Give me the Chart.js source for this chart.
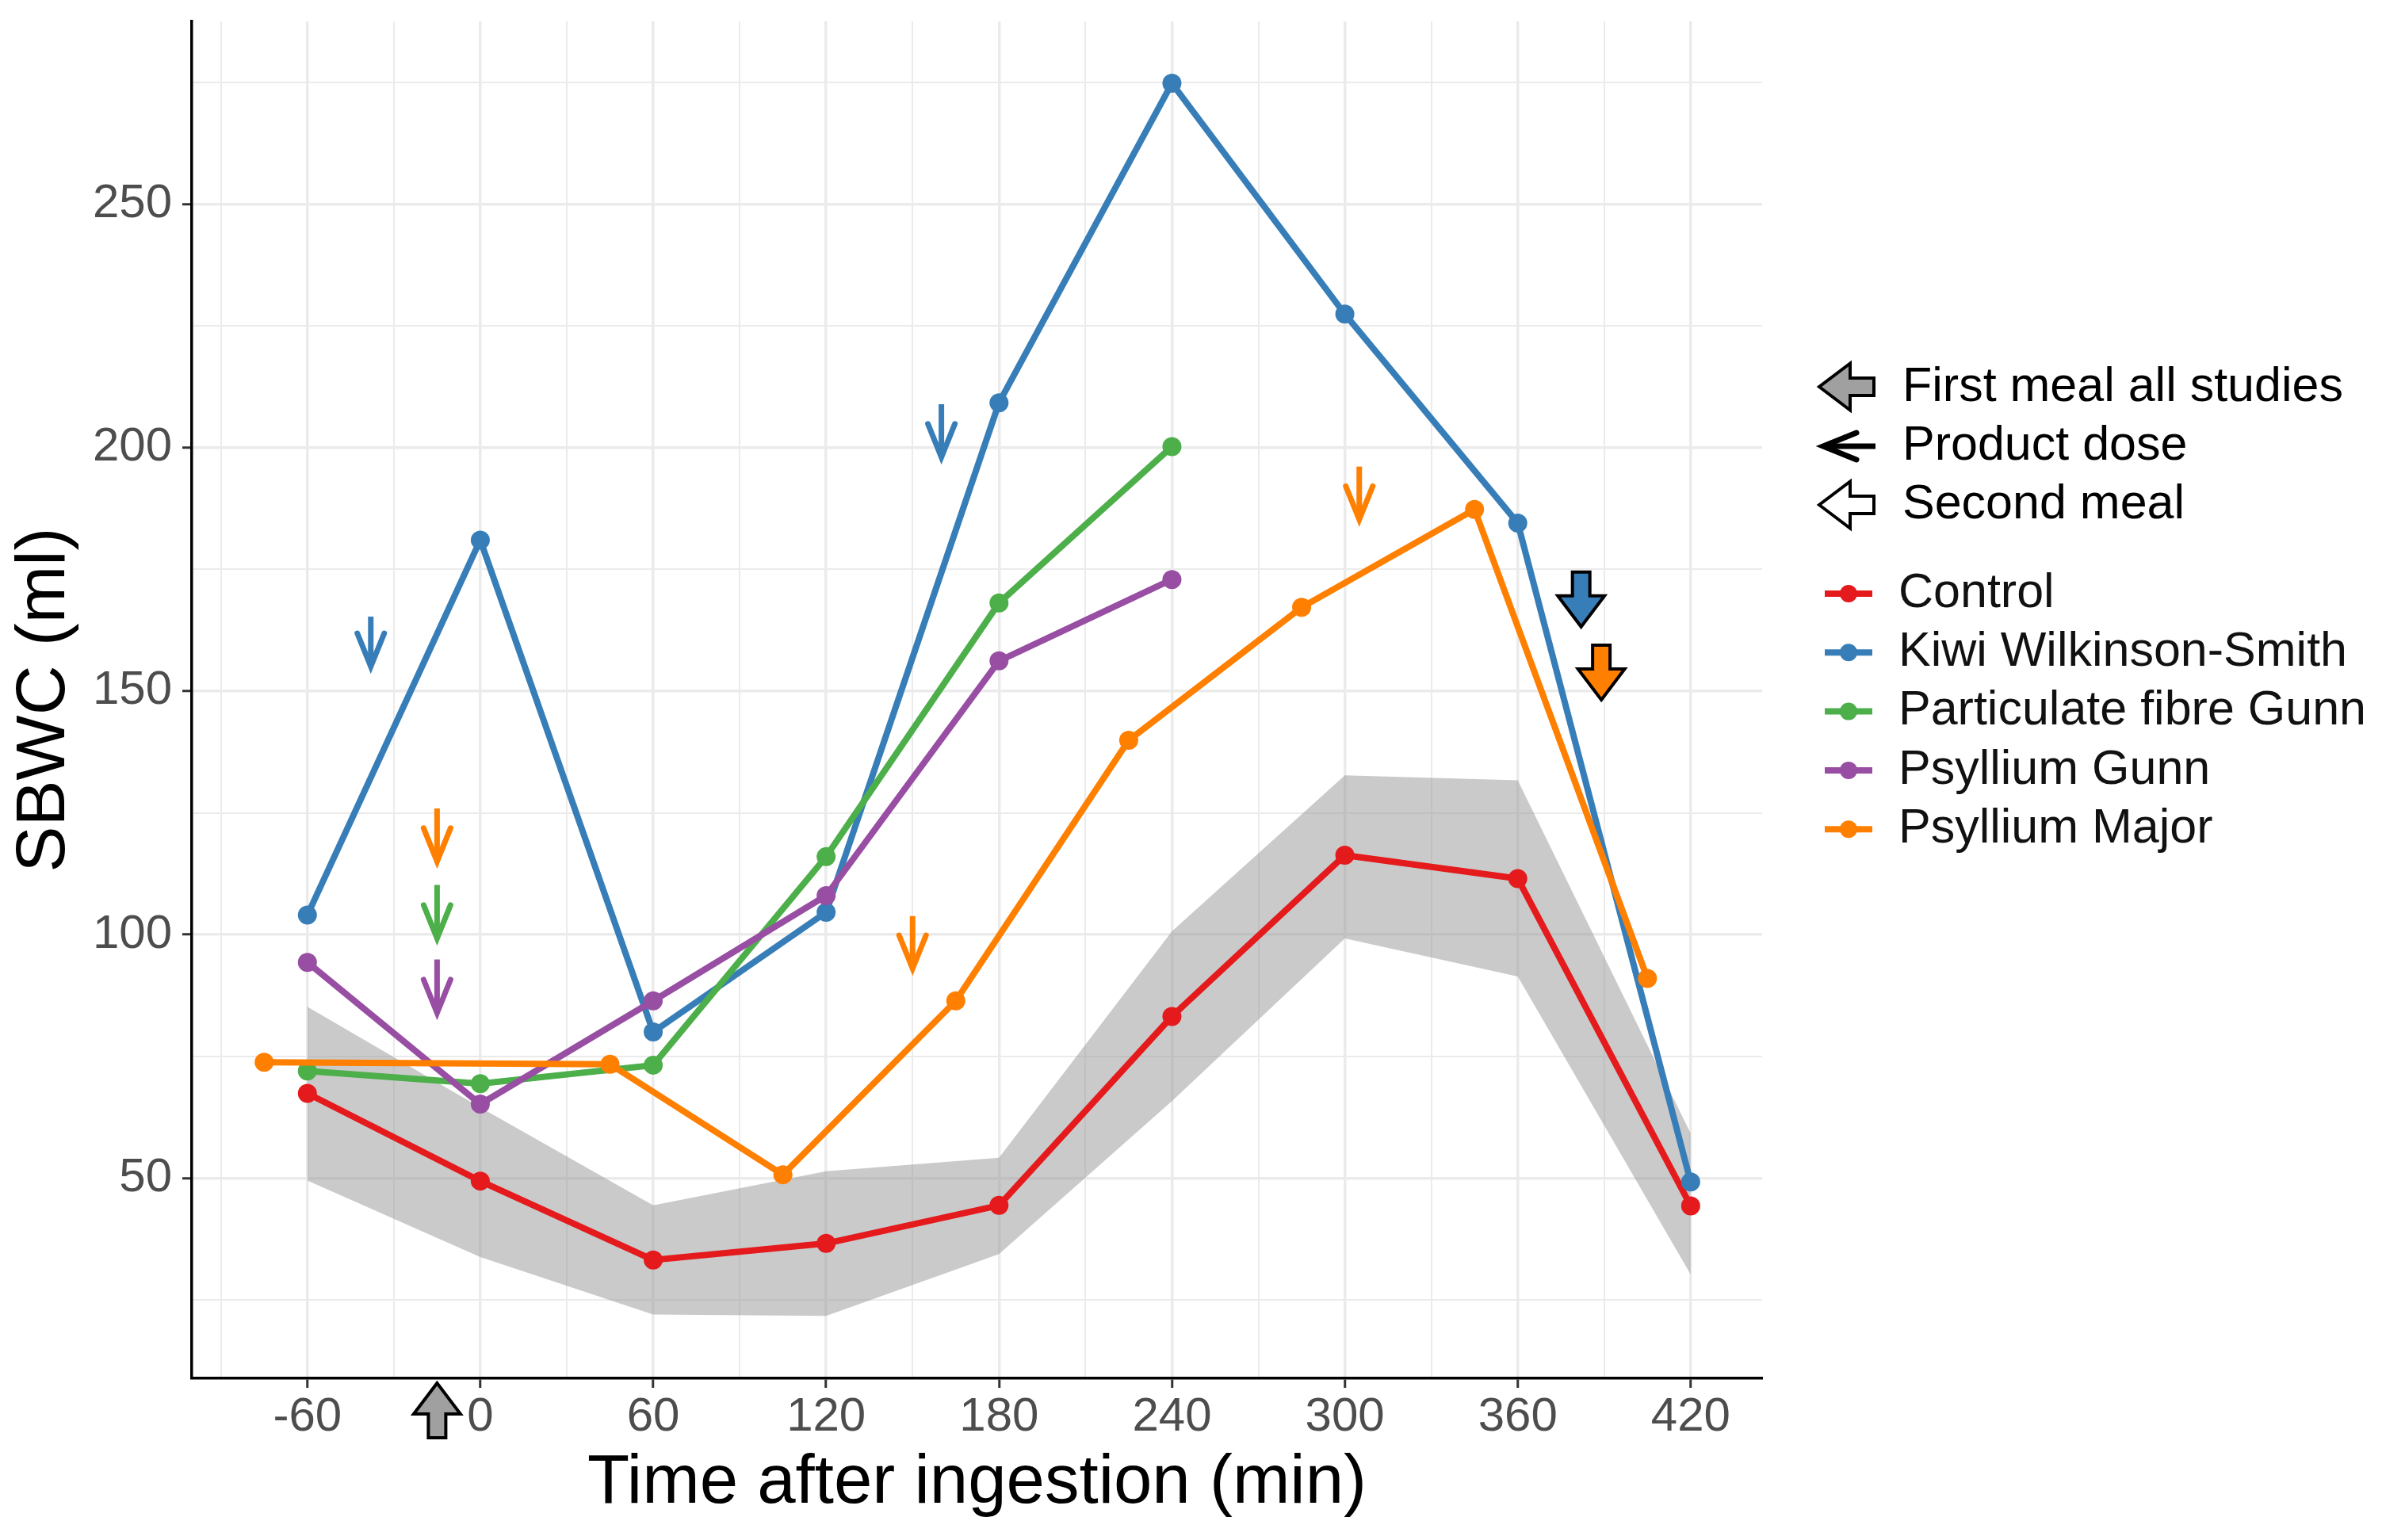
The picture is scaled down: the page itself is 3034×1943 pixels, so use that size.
<!DOCTYPE html>
<html>
<head>
<meta charset="utf-8">
<script src="https://cdn.jsdelivr.net/npm/chart.js@4.4.0/dist/chart.umd.min.js"></script>
<style>
  body { margin: 0; background: #fff; }
  #wrap { width: 3034px; height: 1943px; }
</style>
</head>
<body>
<div id="wrap"><canvas id="myChart"></canvas></div>
<script>
// time points (min)
var times = [-60, 0, 60, 120, 180, 240, 300, 360, 420];
var timesGunn = [-60, 0, 60, 120, 180, 240];
var timesMajor = [-75, 45, 105, 165, 225, 285, 345, 405];

// SBWC (ml)
var control = [67.4, 49.4, 33.2, 36.6, 44.4, 83.2, 116.3, 111.5, 44.3];
var controlUpper = [85.2, 64.5, 44.4, 51.4, 54.2, 100.7, 132.7, 131.7, 59.2];
var controlLower = [49.5, 33.8, 22.0, 21.7, 34.4, 65.8, 99.2, 91.4, 30.2];
var kiwi = [104, 181, 80, 104.6, 209.2, 274.8, 227.4, 184.5, 49.2];
var particulate = [72, 69.4, 73.2, 116, 168.1, 200.2];
var psylliumGunn = [94.3, 65.2, 86.4, 108, 156.2, 172.9];
var psylliumMajor = [73.8, 73.4, 50.7, 86.4, 139.9, 167.2, 187.3, 91];

var xTicks = [-60, 0, 60, 120, 180, 240, 300, 360, 420];
var xMinor = [-90, -30, 30, 90, 150, 210, 270, 330, 390];
var yTicks = [50, 100, 150, 200, 250];
var yMinor = [25, 75, 125, 175, 225, 275];

var seriesNames = ["Control", "Kiwi Wilkinson-Smith", "Particulate fibre Gunn", "Psyllium Gunn", "Psyllium Major"];
var seriesColors = ["#E41A1C", "#377EB8", "#4DAF4A", "#984EA3", "#FF7F00"];

// product dose arrows: time, arrow top and tip (ml), series index
var doseTimes = [-38, -15, -15, -15, 150, 160, 305];
var doseTop = [165.3, 125.9, 110.2, 94.9, 103.8, 208.9, 196.1];
var doseTip = [153.4, 113.4, 97.6, 82.3, 91.4, 196.4, 183.6];
var doseSeries = [1, 4, 2, 3, 4, 1, 4];

// second meal arrows
var mealTimes = [382, 389];
var mealTip = [163.2, 148.2];
var mealSeries = [1, 4];

var firstMealTime = -15;

var FONT = "'Liberation Sans', Arial, sans-serif";

function pts(xs, ys) {
    return xs.map(function (x, i) { return { x: x, y: ys[i] }; });
}

function lineArrow(ctx, tx, ty, angle, len, color) {
    ctx.save();
    ctx.translate(tx, ty);
    ctx.rotate(angle);
    ctx.strokeStyle = color;
    ctx.lineWidth = 7;
    ctx.lineCap = "butt";
    ctx.beginPath();
    ctx.moveTo(-len, 0);
    ctx.lineTo(-12, 0);
    ctx.stroke();
    ctx.lineCap = "round";
    ctx.lineJoin = "miter";
    ctx.miterLimit = 10;
    ctx.beginPath();
    ctx.moveTo(-52, -17);
    ctx.lineTo(-10, 0);
    ctx.lineTo(-52, 17);
    ctx.stroke();
    ctx.restore();
}

function blockArrow(ctx, tx, ty, angle, fill) {
    var L = 69, hl = 39, hw = 29.5, sw = 11;
    ctx.save();
    ctx.translate(tx, ty);
    ctx.rotate(angle);
    ctx.beginPath();
    ctx.moveTo(0, 0);
    ctx.lineTo(-hl, -hw);
    ctx.lineTo(-hl, -sw);
    ctx.lineTo(-L, -sw);
    ctx.lineTo(-L, sw);
    ctx.lineTo(-hl, sw);
    ctx.lineTo(-hl, hw);
    ctx.closePath();
    ctx.fillStyle = fill;
    ctx.fill();
    ctx.lineWidth = 4;
    ctx.lineJoin = "miter";
    ctx.strokeStyle = "#000";
    ctx.stroke();
    ctx.restore();
}

var annotate = {
    id: "annotate",
    afterDatasetsDraw: function (chart) {
        var ctx = chart.ctx, xs = chart.scales.x, ys = chart.scales.y;
        for (var i = 0; i < doseTimes.length; i++) {
            var x = xs.getPixelForValue(doseTimes[i]);
            var top = ys.getPixelForValue(doseTop[i]);
            var tip = ys.getPixelForValue(doseTip[i]);
            lineArrow(ctx, x, tip, Math.PI / 2, tip - top, seriesColors[doseSeries[i]]);
        }
        for (var j = 0; j < mealTimes.length; j++) {
            blockArrow(ctx, xs.getPixelForValue(mealTimes[j]), ys.getPixelForValue(mealTip[j]),
                Math.PI / 2, seriesColors[mealSeries[j]]);
        }
    },
    afterDraw: function (chart) {
        var ctx = chart.ctx, xs = chart.scales.x;
        // first meal, under the x axis
        blockArrow(ctx, xs.getPixelForValue(firstMealTime), chart.chartArea.bottom + 6, -Math.PI / 2, "#A0A0A0");

        // legend
        ctx.save();
        ctx.font = "61px " + FONT;
        ctx.fillStyle = "#000";
        ctx.textBaseline = "middle";
        ctx.textAlign = "left";
        blockArrow(ctx, 2295, 488, Math.PI, "#A0A0A0");
        ctx.fillText("First meal all studies", 2400, 489);
        lineArrow(ctx, 2290, 563, Math.PI, 76, "#000");
        ctx.fillText("Product dose", 2400, 563);
        blockArrow(ctx, 2295, 637, Math.PI, "#FFFFFF");
        ctx.fillText("Second meal", 2400, 637);

        for (var i = 0; i < seriesNames.length; i++) {
            var y = 749 + i * 74.3;
            ctx.strokeStyle = seriesColors[i];
            ctx.lineWidth = 8;
            ctx.beginPath();
            ctx.moveTo(2302, y);
            ctx.lineTo(2362, y);
            ctx.stroke();
            ctx.fillStyle = seriesColors[i];
            ctx.beginPath();
            ctx.arc(2332, y, 11, 0, Math.PI * 2);
            ctx.fill();
            ctx.fillStyle = "#111";
            ctx.fillText(seriesNames[i], 2395, y);
        }
        ctx.restore();
    }
};

function seriesSet(i, xs, ys, order) {
    return {
        label: seriesNames[i],
        data: pts(xs, ys),
        borderColor: seriesColors[i],
        backgroundColor: seriesColors[i],
        pointBackgroundColor: seriesColors[i],
        borderWidth: 8,
        pointRadius: 12,
        pointBorderWidth: 0,
        tension: 0,
        fill: false,
        order: order
    };
}

function isMajor(list, v) { return list.indexOf(v) >= 0; }

new Chart("myChart", {
    type: "line",
    data: {
        datasets: [
            {
                label: "upper",
                data: pts(times, controlUpper),
                borderColor: "rgba(0,0,0,0)",
                borderWidth: 0,
                pointRadius: 0,
                fill: "+1",
                backgroundColor: "rgba(150,150,150,0.5)",
                order: 10
            },
            {
                label: "lower",
                data: pts(times, controlLower),
                borderColor: "rgba(0,0,0,0)",
                borderWidth: 0,
                pointRadius: 0,
                fill: false,
                order: 11
            },
            seriesSet(0, times, control, 5),
            seriesSet(1, times, kiwi, 4),
            seriesSet(2, timesGunn, particulate, 3),
            seriesSet(3, timesGunn, psylliumGunn, 2),
            seriesSet(4, timesMajor, psylliumMajor, 1)
        ]
    },
    options: {
        responsive: true,
        maintainAspectRatio: false,
        devicePixelRatio: 1,
        animation: false,
        layout: { padding: { left: 0, right: 811, top: 27, bottom: 0 } },
        plugins: { legend: { display: false }, tooltip: { enabled: false } },
        scales: {
            x: {
                type: "linear",
                min: -100.1,
                max: 444.8,
                afterBuildTicks: function (scale) {
                    scale.ticks = xTicks.concat(xMinor).sort(function (a, b) { return a - b; })
                        .map(function (v) { return { value: v }; });
                },
                afterFit: function (scale) {
                    scale.height = 204;
                    scale.paddingLeft = 0;
                    scale.paddingRight = 0;
                },
                ticks: {
                    autoSkip: false,
                    maxRotation: 0,
                    padding: 1,
                    color: "#4D4D4D",
                    font: { family: FONT, size: 60 },
                    callback: function (v) { return isMajor(xTicks, v) ? String(v) : ""; }
                },
                grid: {
                    color: "#EBEBEB",
                    lineWidth: function (c) { return c.tick && isMajor(xTicks, c.tick.value) ? 3.5 : 2; },
                    tickLength: 12,
                    tickWidth: 3,
                    tickColor: function (c) { return c.tick && isMajor(xTicks, c.tick.value) ? "#333333" : "rgba(0,0,0,0)"; }
                },
                border: { display: true, color: "#000", width: 3.5 },
                title: {
                    display: true,
                    text: "Time after ingestion (min)",
                    color: "#000",
                    font: { family: FONT, size: 87 },
                    padding: { top: 0, bottom: 19 }
                }
            },
            y: {
                type: "linear",
                min: 8.9,
                max: 287.5,
                afterBuildTicks: function (scale) {
                    scale.ticks = yTicks.concat(yMinor).sort(function (a, b) { return a - b; })
                        .map(function (v) { return { value: v }; });
                },
                afterFit: function (scale) {
                    scale.width = 242;
                    scale.paddingTop = 0;
                    scale.paddingBottom = 0;
                },
                ticks: {
                    padding: 13,
                    color: "#4D4D4D",
                    font: { family: FONT, size: 60 },
                    callback: function (v) { return isMajor(yTicks, v) ? String(v) : ""; }
                },
                grid: {
                    color: "#EBEBEB",
                    lineWidth: function (c) { return c.tick && isMajor(yTicks, c.tick.value) ? 3.5 : 2; },
                    tickLength: 12,
                    tickWidth: 3,
                    tickColor: function (c) { return c.tick && isMajor(yTicks, c.tick.value) ? "#333333" : "rgba(0,0,0,0)"; }
                },
                border: { display: true, color: "#000", width: 3.5 },
                title: {
                    display: true,
                    text: "SBWC (ml)",
                    color: "#000",
                    font: { family: FONT, size: 87 },
                    padding: { top: 5, bottom: 0 }
                }
            }
        }
    },
    plugins: [annotate]
});
</script>
</body>
</html>
